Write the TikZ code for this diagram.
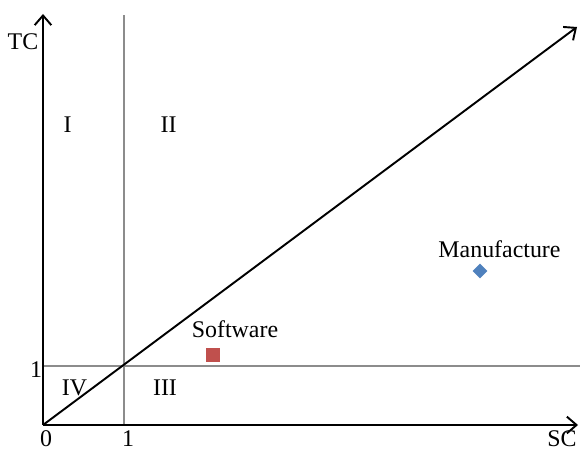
\documentclass[tikz,border=0pt]{standalone}
\usepackage{fontspec}
\setmainfont{Liberation Serif}
\usetikzlibrary{shapes.geometric,arrows.meta}
\definecolor{gridgray}{RGB}{140,140,140}
\definecolor{swred}{RGB}{192,80,77}
\definecolor{mfblue}{RGB}{79,129,189}
\tikzset{>={Straight Barb[length=5.5pt,width=9.5pt]},
  axis/.style={->,line width=1.1pt},
  gridline/.style={draw=gridgray,line width=1pt},
  lbl/.style={inner sep=0pt,font=\fontsize{13.6}{16}\selectfont}}
\begin{document}
\begin{tikzpicture}[x=0.02cm,y=0.02cm]
    \useasboundingbox (-43,-27) rectangle (537,425);
    \coordinate (O) at (0,0);
    \coordinate (X) at (535,0);
    \coordinate (Y) at (0,411);
    \coordinate (D) at (534,398);

    \coordinate (V0) at (81,0);
    \coordinate (V1) at (81,410);
    \coordinate (H0) at (0,59);
    \coordinate (H1) at (537,59);

    % grid lines at 1
    \draw[gridline](V0)--(V1);
    \draw[gridline](H0)--(H1);

    % axes
    \draw[axis](O)--(X);
    \draw[axis](O)--(Y);
    \draw[axis](O)--(D);

    \node[lbl] (tc) at (-20,383){TC};
    \node[lbl] (sc) at (519,-14){SC};
    \node[lbl] (zero) at (3,-14){0};
    \node[lbl] (onex) at (85,-14){1};
    \node[lbl] (oney) at (-7,55){1};

    \node[lbl] (regI) at (24.5,300){I};
    \node[lbl] (regII) at (125.5,300){II};
    \node[lbl] (regIII) at (122,37){III};
    \node[lbl] (regIV) at (31.5,37){IV};

    \node[lbl] (software) at (192,96){Software};
    \node[fill=swred,minimum size=0.28cm,inner sep=0pt] (swmark) at (170,70){};
    \node[lbl] (manufacture) at (456.5,176){Manufacture};
    \node[diamond,fill=mfblue,minimum size=0.3cm,inner sep=0pt] (mfmark) at (437,154){};
\end{tikzpicture}
\end{document}
